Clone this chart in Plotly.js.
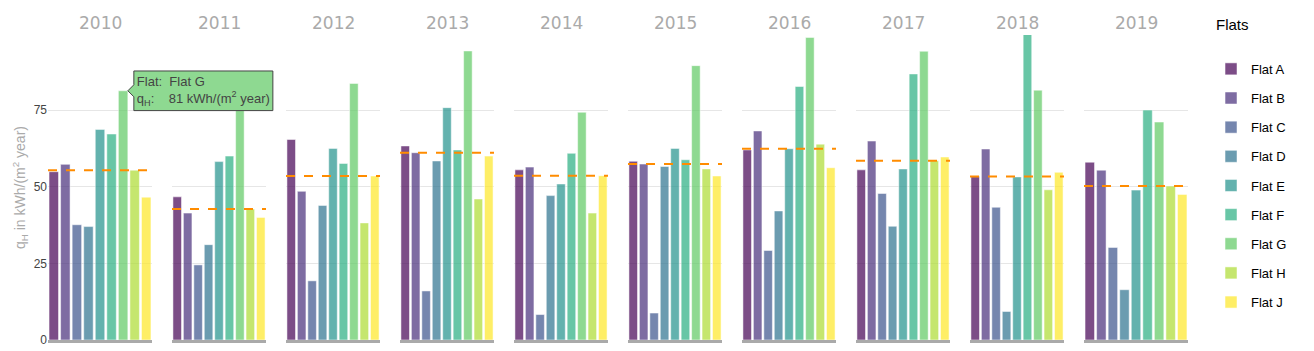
<!DOCTYPE html>
<html>
<head>
<meta charset="utf-8">
<script src="https://cdn.plot.ly/plotly-3.0.1.min.js"></script>
<style>html,body{margin:0;padding:0;background:#fff;}#chart{width:1314px;height:351px;}</style>
</head>
<body>
<div id="chart"></div>
<script>
// ---- data ----
const years = ['2010','2011','2012','2013','2014','2015','2016','2017','2018','2019'];
const flats = ['Flat A','Flat B','Flat C','Flat D','Flat E','Flat F','Flat G','Flat H','Flat J'];
const q2010 = [54.9, 57.3, 37.6, 37.0, 68.7, 67.2, 81.3, 55.4, 46.6];
const q2011 = [46.7, 41.4, 24.5, 31.1, 58.2, 60.0, 78.0, 42.7, 40.0];
const q2012 = [65.4, 48.5, 19.3, 43.9, 62.5, 57.6, 83.7, 38.2, 53.5];
const q2013 = [63.3, 61.1, 16.0, 58.4, 75.8, 62.0, 94.3, 46.0, 60.0];
const q2014 = [55.5, 56.4, 8.3, 47.1, 50.9, 60.9, 74.3, 41.4, 53.6];
const q2015 = [58.3, 57.4, 8.8, 56.6, 62.5, 58.8, 89.5, 55.8, 53.5];
const q2016 = [62.0, 68.2, 29.2, 42.1, 62.4, 82.7, 98.7, 63.9, 56.2];
const q2017 = [55.5, 64.9, 47.8, 37.1, 55.8, 86.8, 94.2, 58.5, 59.7];
const q2018 = [53.3, 62.3, 43.3, 9.3, 53.2, 100.5, 81.5, 49.0, 54.7];
const q2019 = [58.0, 55.4, 30.2, 16.4, 48.9, 75.0, 71.1, 50.2, 47.5];
const yearValues = [q2010, q2011, q2012, q2013, q2014, q2015, q2016, q2017, q2018, q2019];
const yTickVals = [0, 25, 50, 75];
const yTickText = ['0', '25', '50', '75'];
const legendTitle = 'Flats';

// ---- styles ----
const flatColors = [
  'rgba(68,1,84,0.7)', 'rgba(71,45,123,0.7)', 'rgba(59,82,139,0.7)',
  'rgba(44,114,142,0.7)', 'rgba(33,145,140,0.7)', 'rgba(40,174,128,0.7)',
  'rgba(94,201,98,0.7)', 'rgba(173,220,48,0.7)', 'rgba(253,231,37,0.7)'
];
// panel edges in px inside the plot area (width 1140)
const panelPx = [[0,104],[124,218],[238,332],[352,446],[466,560],[580,674],[694,788],[808,902],[922,1016],[1036,1140]];
const plotW = 1140;
const FONT = 'Liberation Sans, Arial, sans-serif';

function median(arr) {
  const s = arr.slice().sort((a, b) => a - b);
  const m = Math.floor(s.length / 2);
  return s.length % 2 ? s[m] : (s[m - 1] + s[m]) / 2;
}

const traces = [];
const layout = {
  width: 1314, height: 351,
  margin: {l: 48, r: 126, t: 35, b: 11, pad: 0, autoexpand: false},
  paper_bgcolor: '#fff', plot_bgcolor: '#fff',
  font: {family: FONT, size: 12, color: '#444'},
  barmode: 'relative', bargap: 0.18,
  hovermode: 'closest',
  hoverlabel: {font: {family: FONT, size: 13}},
  showlegend: true,
  legend: {
    x: 1.0202, xanchor: 'left', y: 0.938, yanchor: 'top',
    maxheight: 400,
    traceorder: 'grouped', tracegroupgap: 9.25,
    font: {family: FONT, size: 13, color: '#000'}
  },
  annotations: [
    {text: legendTitle, xref: 'paper', yref: 'paper', x: 1.0228, y: 1.036,
     xanchor: 'left', yanchor: 'middle', showarrow: false,
     font: {family: FONT, size: 15, color: '#000'}}
  ],
  shapes: []
};

years.forEach((yr, i) => {
  const sfx = i === 0 ? '' : String(i + 1);
  const xa = 'x' + sfx, ya = 'y' + sfx;
  const vals = yearValues[i];
  flats.forEach((f, j) => {
    traces.push({
      type: 'bar', x: [f], y: [vals[j]], name: f,
      xaxis: xa, yaxis: ya,
      legendgroup: f, showlegend: i === 0,
      marker: {color: flatColors[j], line: {color: '#fff', width: 0.5}},
      hovertemplate: 'Flat:\u00a0\u00a0%{x}<br>q<sub>H</sub>:\u00a0\u00a0\u00a0\u00a0%{y:.0f} kWh/(m<sup>2</sup> year)<extra></extra>'
    });
  });
  const dom = [panelPx[i][0] / plotW, panelPx[i][1] / plotW];
  layout['xaxis' + sfx] = {
    domain: dom, anchor: ya, type: 'category', categoryarray: flats, categoryorder: 'array',
    range: [-0.5, 8.5], showticklabels: false, showgrid: false, zeroline: false,
    showline: true, linecolor: '#aaaaaa', linewidth: 3, ticks: '', fixedrange: true
  };
  const yax = {
    domain: [0, 1], anchor: xa, range: [0, 99.5],
    tickvals: yTickVals, ticktext: yTickText, showgrid: true, gridcolor: '#e6e6e6', gridwidth: 1,
    zeroline: false, showline: false, ticks: '', fixedrange: true,
    showticklabels: i === 0,
    tickfont: {family: FONT, size: 12, color: '#444'}
  };
  if (i === 0) {
    yax.automargin = true;
    yax.title = {text: 'q<sub>H</sub> in kWh/(m<sup>2</sup> year)', standoff: 4,
      font: {family: FONT, size: 14, color: '#aaaaaa'}};
  } else {
    yax.matches = 'y';
  }
  layout['yaxis' + sfx] = yax;

  layout.annotations.push({
    text: yr, xref: 'paper', yref: 'paper', x: (dom[0] + dom[1]) / 2, y: 1,
    xanchor: 'center', yanchor: 'bottom', showarrow: false,
    font: {family: 'DejaVu Sans, sans-serif', size: 17, color: '#aaaaaa'}
  });
  layout.shapes.push({
    type: 'line', xref: xa + ' domain', yref: ya, x0: 0, x1: 1,
    y0: median(vals), y1: median(vals), layer: 'above',
    line: {color: 'darkorange', width: 2, dash: 'dash'}
  });
});

const gd = document.getElementById('chart');
Plotly.newPlot(gd, traces, layout, {displayModeBar: false}).then(() => {
  try {
    Plotly.Fx.hover(gd, [{curveNumber: 6, pointNumber: 0}], 'xy');
  } catch (e) { console.log(e); }
});
</script>
</body>
</html>
